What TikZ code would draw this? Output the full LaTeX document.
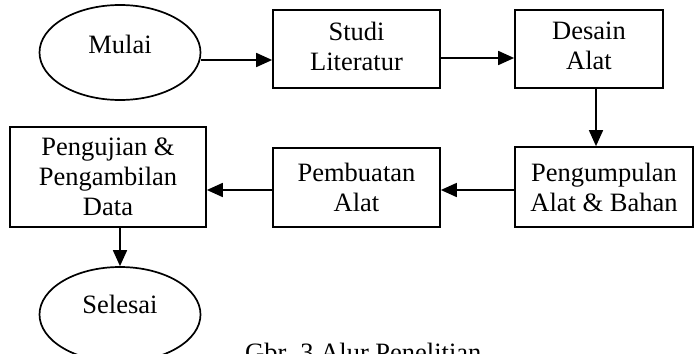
\documentclass[tikz,border=0pt]{standalone}
\usepackage{fontspec}
\setmainfont{Liberation Serif}
\usetikzlibrary{shapes.geometric,arrows.meta}
\begin{document}
\begin{tikzpicture}[x=1pt,y=-1pt,
  every node/.style={font=\fontsize{26.5}{30}\selectfont, inner sep=0pt},
  box/.style={draw, line width=1.7pt, align=center},
  oval/.style={draw, ellipse, line width=1.7pt, minimum width=161pt, minimum height=95pt},
  arr/.style={line width=1.7pt, -{Triangle[length=16pt,width=14pt]}}]
\clip (0,0) rectangle (695,353);
\useasboundingbox (0,0) rectangle (695,353);
\node[oval] (mulai) at (120,52.5) {};
\node (mulaitxt) at (120,44) {Mulai};
\node[box, minimum width=167pt, minimum height=78pt] (studi) at (356.5,49) {};
\node (studitxt) at (356.5,46) [align=center] {Studi\\Literatur};
\node[box, minimum width=148pt, minimum height=78pt] (desain) at (589,49) {};
\node (desaintxt) at (589,46) [align=center] {Desain\\Alat};
\node[box, minimum width=178pt, minimum height=80pt] (kumpul) at (604,187) {Pengumpulan\\Alat \& Bahan};
\node[box, minimum width=167pt, minimum height=79pt] (buat) at (356.5,187.5) {Pembuatan\\Alat};
\node[box, minimum width=196pt, minimum height=100pt] (uji) at (108,177) {Pengujian \&\\Pengambilan\\Data};
\node[oval] (selesai) at (120,314.5) {};
\node (selesaitxt) at (120,304) {Selesai};
\node[anchor=base west] (caption) at (245,361) {Gbr. 3 Alur Penelitian};
\draw[arr] ([yshift=-7.5pt]mulai.east) -- ([yshift=-7.5pt]mulai.east -| studi.west);
\draw[arr] ([yshift=-9pt]studi.east) -- ([yshift=-9pt]studi.east -| desain.west);
\draw[arr] ([xshift=7pt]desain.south) -- ([xshift=7pt]desain.south |- kumpul.north);
\draw[arr] ([yshift=-3pt]kumpul.west) -- ([yshift=-3pt]kumpul.west -| buat.east);
\draw[arr] ([yshift=-2.5pt]buat.west) -- ([yshift=-2.5pt]buat.west -| uji.east);
\draw[arr] (selesai.north |- uji.south) -- (selesai.north);
\end{tikzpicture}
\end{document}
